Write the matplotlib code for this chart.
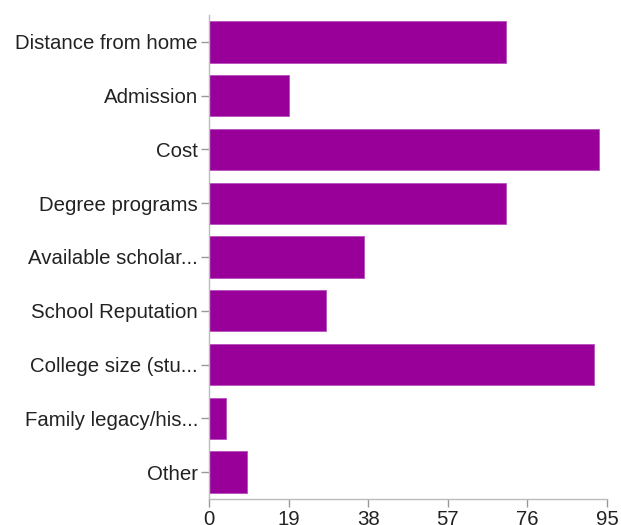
import matplotlib
matplotlib.use("Agg")
import matplotlib.pyplot as plt

categories = ["Distance from home", "Admission", "Cost", "Degree programs",
              "Available scholar...", "School Reputation", "College size (stu...",
              "Family legacy/his...", "Other"]
values = [71, 19, 93, 71, 37, 28, 92, 4, 9]
xticks = [0, 19, 38, 57, 76, 95]

plt.rcParams['font.family'] = ['Liberation Sans', 'DejaVu Sans']

fig = plt.figure(figsize=(6.21, 5.25), dpi=100)
ax = fig.add_axes([209/621, 1 - 499/525, (607-209)/621, (499-15)/525])

y = list(range(len(categories)))
ax.barh(y, values, height=0.77, color="#990099", edgecolor="#b84fc0", linewidth=0.6)
ax.set_ylim(len(categories) - 0.5, -0.5)
ax.set_xlim(0, 95)
ax.set_yticks(y)
ax.set_yticklabels(categories)
ax.set_xticks(xticks)
ax.set_xticklabels([str(t) for t in xticks])

for s in ["top", "right"]:
    ax.spines[s].set_visible(False)
for s in ["left", "bottom"]:
    ax.spines[s].set_color("#bbbbbb")
    ax.spines[s].set_linewidth(1.0)
ax.tick_params(axis="both", colors="#999999", labelcolor="#222222", labelsize=14.7,
               length=6, width=1, pad=2)

fig.savefig("out.png", dpi=100)
